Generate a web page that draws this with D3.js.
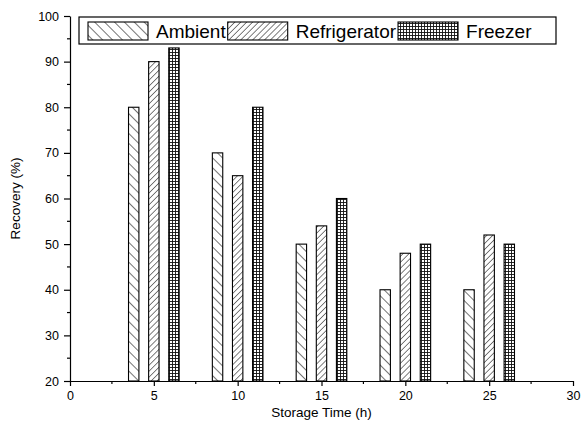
<!DOCTYPE html>
<html>
<head>
<meta charset="utf-8">
<script src="https://cdn.jsdelivr.net/npm/d3@7"></script>
<style>
  html, body { margin: 0; padding: 0; background: #fff; overflow: hidden; }
  svg { display: block; }
  text { font-family: Arial, 'Liberation Sans', sans-serif; fill: #000; }
  .axis path, .axis line { stroke: #000; stroke-width: 1.2; }
  .axis text { font-size: 12.5px; }
  .bar { stroke: #000; stroke-width: 1.1; }
</style>
</head>
<body>
<svg width="582" height="423"></svg>
<script>

// data
const times = [5, 10, 15, 20, 25]
const seriesNames = ['Ambient', 'Refrigerator', 'Freezer']
const ambient = [80, 70, 50, 40, 40]
const refrigerator = [90, 65, 54, 48, 52]
const freezer = [93, 80, 60, 50, 50]
const xTicks = [0, 5, 10, 15, 20, 25, 30]
const yTicks = [20, 30, 40, 50, 60, 70, 80, 90, 100]

const svg = d3.select('svg')
const width = +svg.attr('width')
const height = +svg.attr('height')

const margin = { top: 16, right: 9, bottom: 42, left: 70 }
const innerWidth = width - margin.left - margin.right
const innerHeight = height - margin.top - margin.bottom

const xScale = d3.scaleLinear().domain([0, 30]).range([0, innerWidth])
const yScale = d3.scaleLinear().domain([20, 100]).range([innerHeight, 0])

// hatch patterns, one per series
const defs = svg.append('defs')

const p1 = defs.append('pattern')
  .attr('id', 'pat-ambient')
  .attr('patternUnits', 'userSpaceOnUse')
  .attr('width', 7).attr('height', 7)
  .attr('patternTransform', 'rotate(-45)')
p1.append('rect').attr('width', 7).attr('height', 7).attr('fill', '#fff')
p1.append('line').attr('x1', 0).attr('y1', 0).attr('x2', 0).attr('y2', 7)
  .attr('stroke', '#000').attr('stroke-width', 1.1)

const p2 = defs.append('pattern')
  .attr('id', 'pat-refrigerator')
  .attr('patternUnits', 'userSpaceOnUse')
  .attr('width', 4.2).attr('height', 4.2)
  .attr('patternTransform', 'rotate(45)')
p2.append('rect').attr('width', 4.2).attr('height', 4.2).attr('fill', '#fff')
p2.append('line').attr('x1', 0).attr('y1', 0).attr('x2', 0).attr('y2', 4.2)
  .attr('stroke', '#000').attr('stroke-width', 1)

const p3 = defs.append('pattern')
  .attr('id', 'pat-freezer')
  .attr('patternUnits', 'userSpaceOnUse')
  .attr('width', 3).attr('height', 3)
p3.append('rect').attr('width', 3).attr('height', 3).attr('fill', '#fff')
p3.append('path').attr('d', 'M0.5,0V3M0,0.5H3')
  .attr('stroke', '#111').attr('stroke-width', 0.9)

const fills = ['url(#pat-ambient)', 'url(#pat-refrigerator)', 'url(#pat-freezer)']

const g = svg.append('g')
  .attr('transform', `translate(${margin.left}, ${margin.top})`)

// bars
const series = [ambient, refrigerator, freezer]
const offsets = [-1.2, 0, 1.2]
const barW = xScale(0.62) - xScale(0)

series.forEach((vals, s) => {
  g.selectAll('.bar-' + s)
    .data(vals.map((v, i) => ({ t: times[i], v })))
    .enter()
    .append('rect')
    .attr('class', 'bar bar-' + s)
    .attr('x', d => xScale(d.t + offsets[s]) - barW / 2)
    .attr('y', d => yScale(d.v))
    .attr('width', barW)
    .attr('height', d => yScale(20) - yScale(d.v))
    .attr('fill', fills[s])
})

// axes
const xAxisG = g.append('g')
  .attr('class', 'axis')
  .attr('transform', `translate(0, ${innerHeight})`)
  .call(d3.axisBottom(xScale).tickValues(xTicks).tickSize(5).tickPadding(5).tickSizeOuter(0))
xAxisG.selectAll('.minor')
  .data(d3.range(2.5, 30, 5))
  .enter()
  .append('line')
  .attr('class', 'minor')
  .attr('x1', d => xScale(d)).attr('x2', d => xScale(d))
  .attr('y1', 0).attr('y2', 3)

const yAxisG = g.append('g')
  .attr('class', 'axis')
  .call(d3.axisLeft(yScale).tickValues(yTicks).tickSize(6).tickPadding(5).tickSizeOuter(0))
yAxisG.selectAll('.minor')
  .data(d3.range(25, 100, 10))
  .enter()
  .append('line')
  .attr('class', 'minor')
  .attr('x1', 0).attr('x2', -3)
  .attr('y1', d => yScale(d)).attr('y2', d => yScale(d))

// axis titles
svg.append('text')
  .attr('x', margin.left + innerWidth / 2)
  .attr('y', 417)
  .attr('text-anchor', 'middle')
  .style('font-size', '13.5px')
  .text('Storage Time (h)')

svg.append('text')
  .attr('transform', `translate(20, ${margin.top + innerHeight / 2}) rotate(-90)`)
  .attr('text-anchor', 'middle')
  .style('font-size', '13.5px')
  .text('Recovery (%)')

// legend
const legend = svg.append('g').attr('transform', 'translate(79, 17)')
legend.append('rect')
  .attr('width', 477)
  .attr('height', 27)
  .attr('fill', '#fff')
  .attr('stroke', '#000')
  .attr('stroke-width', 1.2)

let lx = 9
seriesNames.forEach((name, s) => {
  legend.append('rect')
    .attr('class', 'bar')
    .attr('x', lx)
    .attr('y', 5)
    .attr('width', 60)
    .attr('height', 18)
    .attr('fill', fills[s])
  const t = legend.append('text')
    .attr('x', lx + 68)
    .attr('y', 21)
    .style('font-size', '19px')
    .text(name)
  lx += 68 + t.node().getComputedTextLength() + 2
})

</script>
</body>
</html>
